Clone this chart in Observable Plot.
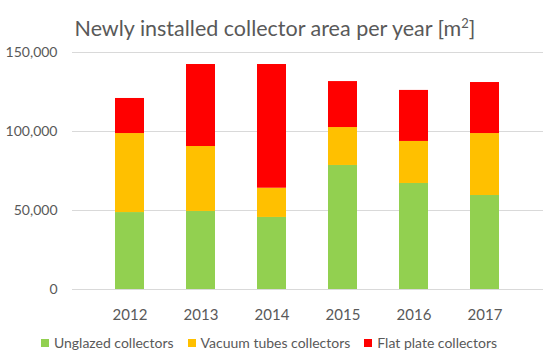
<!DOCTYPE html>
<html>
<head>
<meta charset="utf-8">
<script src="https://cdn.jsdelivr.net/npm/d3@7"></script>
<script src="https://cdn.jsdelivr.net/npm/@observablehq/plot@0.6"></script>
<style>
  body { margin: 0; background: #fff; font-family: Lato, "Open Sans", sans-serif; }
  #wrap { width: 550px; height: 360px; position: relative; }
  #title { height: 38px; text-align: center; font-size: 21.5px; color: #595959; line-height: 46px; }
  #title sup { font-size: 13px; }
  #legend { display: flex; justify-content: center; gap: 14px; font-size: 14px; color: #595959; margin-top: 9px; padding-right: 12px; }
  .item { display: flex; align-items: center; gap: 5px; }
  .sw { width: 8px; height: 8px; display: inline-block; }
</style>
</head>
<body>
<div id="wrap">
  <div id="title">Newly installed collector area per year [m<sup>2</sup>]</div>
  <div id="chart"></div>
  <div id="legend"></div>
</div>
<script>
const years = ["2012", "2013", "2014", "2015", "2016", "2017"];
const seriesNames = ["Unglazed collectors", "Vacuum tubes collectors", "Flat plate collectors"];
const seriesColors = ["#92d050", "#ffc000", "#ff0000"];
const unglazed = [48700, 49400, 45600, 78500, 67100, 59500];
const vacuum = [50000, 41100, 18500, 24000, 26600, 39200];
const flat = [22200, 51900, 78300, 29100, 32300, 32300];
const yTicks = [0, 50000, 100000, 150000];

const seriesValues = [unglazed, vacuum, flat];
const data = [];
seriesNames.forEach((s, si) => {
  years.forEach((y, yi) => data.push({year: y, series: s, value: seriesValues[si][yi]}));
});

const chart = Plot.plot({
  width: 550,
  height: 287,
  marginLeft: 72,
  marginRight: 7,
  marginTop: 14,
  marginBottom: 36,
  style: { fontFamily: "Lato, 'Open Sans', sans-serif", fontSize: "14px", color: "#595959" },
  x: { domain: years, label: null, padding: 0.59, tickSize: 0, tickPadding: 20 },
  y: { domain: [0, 150000], ticks: yTicks, tickFormat: d3.format(","), label: null, tickSize: 0, tickPadding: 15, grid: false },
  color: { domain: seriesNames, range: seriesColors },
  marks: [
    Plot.gridY(yTicks, { stroke: "#d9d9d9", strokeOpacity: 1 }),
    Plot.barY(data, { x: "year", y: "value", fill: "series", order: seriesNames })
  ]
});
chart.querySelectorAll("[aria-label='x-axis tick label'] text").forEach(t => t.style.fontSize = "15px");
document.getElementById("chart").appendChild(chart);

const legend = document.getElementById("legend");
seriesNames.forEach((s, i) => {
  const it = document.createElement("div");
  it.className = "item";
  it.innerHTML = `<span class="sw" style="background:${seriesColors[i]}"></span><span>${s}</span>`;
  legend.appendChild(it);
});
</script>
</body>
</html>
